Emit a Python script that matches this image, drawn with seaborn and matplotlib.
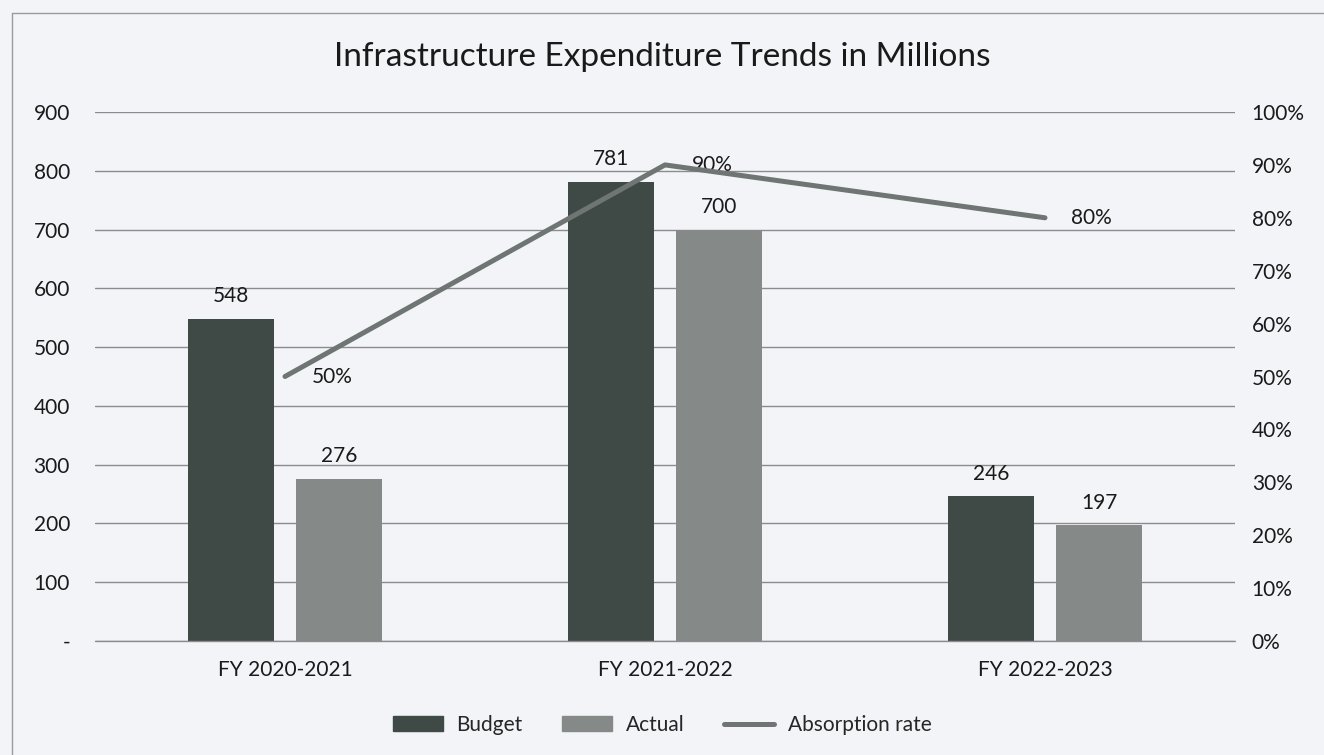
import matplotlib
matplotlib.use("Agg")
import matplotlib.pyplot as plt
from matplotlib.lines import Line2D
from matplotlib.patches import Patch
import seaborn as sns
import pandas as pd

# Chart data
years = ["FY 2020-2021", "FY 2021-2022", "FY 2022-2023"]
budget = [548, 781, 246]
actual = [276, 700, 197]
absorption = [50, 90, 80]  # percent
left_ticks = [0, 100, 200, 300, 400, 500, 600, 700, 800, 900]
left_tick_labels = ["-", "100", "200", "300", "400", "500", "600", "700", "800", "900"]
right_ticks = [0, 10, 20, 30, 40, 50, 60, 70, 80, 90, 100]

BG = "#f3f4f8"
C_BUDGET = "#3f4a46"
C_ACTUAL = "#858988"
C_LINE = "#6e7573"
TXT = "#1a1a1a"
FS = 15

sns.set_theme(style="white")
plt.rcParams["font.family"] = ["Lato", "DejaVu Sans"]

df = pd.DataFrame({
    "year": years * 2,
    "value": budget + actual,
    "series": ["Budget"] * 3 + ["Actual"] * 3,
})

fig = plt.figure(figsize=(13.24, 7.55), dpi=100, facecolor=BG)
ax = fig.add_axes([95 / 1324, 1 - 641 / 755, 1140 / 1324, 529 / 755])
ax.set_facecolor(BG)

sns.barplot(data=df, x="year", y="value", hue="series", order=years,
            hue_order=["Budget", "Actual"],
            palette={"Budget": C_BUDGET, "Actual": C_ACTUAL},
            width=0.57, gap=0.21, saturation=1, errorbar=None,
            linewidth=0, legend=False, ax=ax, zorder=3)

for cont in ax.containers:
    ax.bar_label(cont, fmt="%d", padding=9, fontsize=FS, color=TXT)

ax.set_ylim(0, 900)
ax.set_xlim(-0.5, 2.5)
ax.set_yticks(left_ticks)
ax.set_yticklabels(left_tick_labels)
ax.grid(axis="y", color="#8c8c8c", linewidth=1.0, zorder=0)
ax.set_axisbelow(True)
# Category axis baseline
ax.axhline(0, color="#8c8c8c", linewidth=1.0, clip_on=False, zorder=4)
ax.tick_params(axis="y", length=0, pad=18, labelsize=FS, labelcolor=TXT)
ax.tick_params(axis="x", length=0, pad=14, labelsize=FS, labelcolor=TXT)
ax.set_xlabel("")
ax.set_ylabel("")
for s in ax.spines.values():
    s.set_visible(False)

# Absorption rate on the secondary axis
ax2 = ax.twinx()
sns.lineplot(x=[0, 1, 2], y=absorption, ax=ax2, color=C_LINE,
             linewidth=3.6, zorder=5)
ax2.set_ylim(0, 100)
ax2.set_yticks(right_ticks)
ax2.set_yticklabels([f"{t}%" for t in right_ticks])
ax2.tick_params(axis="y", length=0, pad=12, labelsize=FS, labelcolor=TXT)
ax2.set_ylabel("")
for s in ax2.spines.values():
    s.set_visible(False)
for i, r in enumerate(absorption):
    ax2.annotate(f"{r}%", (i, r), xytext=(19, 0), textcoords="offset points",
                 ha="left", va="center", fontsize=FS, color=TXT)

fig.text(0.5, 1 - 57 / 755, "Infrastructure Expenditure Trends in Millions",
         ha="center", va="center", fontsize=24, color=TXT)

handles = [
    Patch(facecolor=C_BUDGET, edgecolor=C_BUDGET),
    Patch(facecolor=C_ACTUAL, edgecolor=C_ACTUAL),
    Line2D([0], [0], color=C_LINE, linewidth=3.6),
]
fig.legend(handles, ["Budget", "Actual", "Absorption rate"],
           loc="center", bbox_to_anchor=(0.5, 1 - 725 / 755), ncol=3,
           frameon=False, fontsize=FS, handlelength=2.4, handleheight=0.75,
           columnspacing=1.9, handletextpad=0.65)

# Chart frame
fig.add_artist(Line2D([12 / 1324, 12 / 1324], [0, 1 - 13 / 755],
                      transform=fig.transFigure, color="#9a9a9a", linewidth=1))
fig.add_artist(Line2D([12 / 1324, 1], [1 - 13 / 755, 1 - 13 / 755],
                      transform=fig.transFigure, color="#9a9a9a", linewidth=1))

fig.savefig("out.png", dpi=100, facecolor=BG)
